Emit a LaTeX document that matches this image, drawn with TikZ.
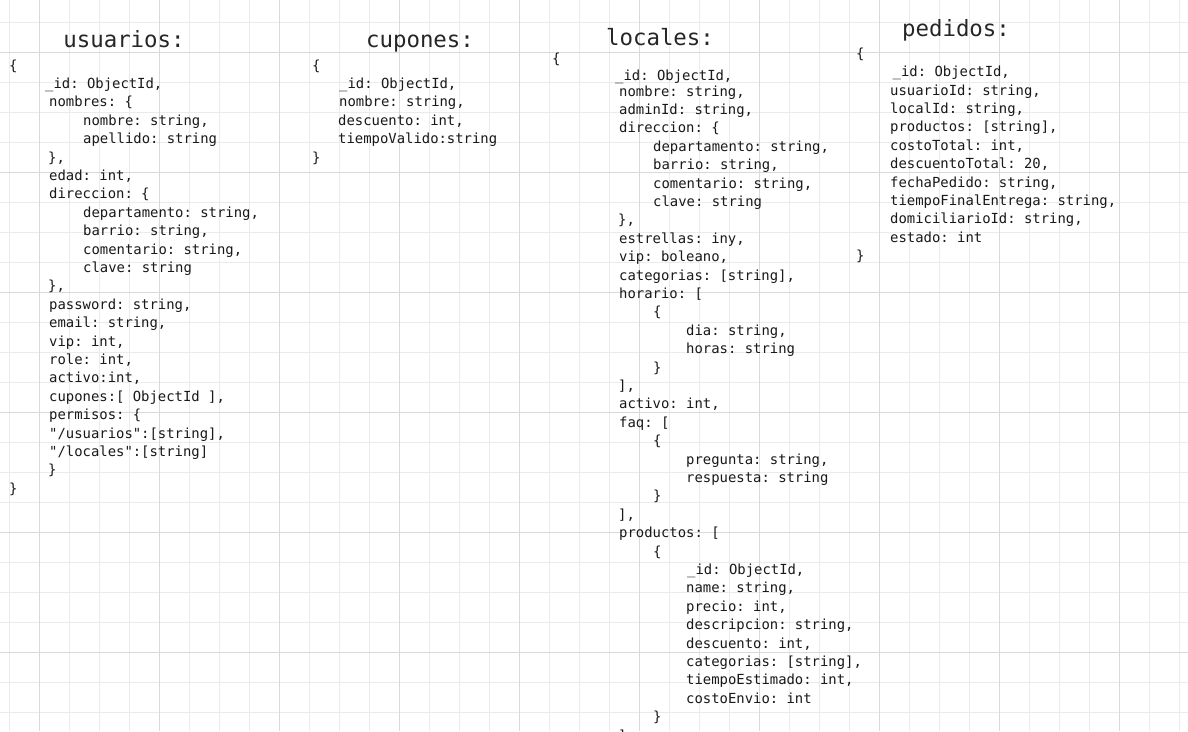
\documentclass[tikz,border=0pt]{standalone}
\usepackage{fontspec}
\setmonofont{DejaVu Sans Mono}
\tikzset{
  code/.style={anchor=base west, inner sep=0pt, font=\ttfamily\fontsize{13.9}{16}\selectfont, text=black!90},
  title/.style={anchor=base, inner sep=0pt, font=\ttfamily\fontsize{22.4}{26}\selectfont, text=black!85},
  minorgrid/.style={draw=black!8, line width=1pt},
  majorgrid/.style={draw=black!15, line width=1pt}
}
% name, x, base y, line index, text
\newcommand\cl[5]{\node[code] (#1) at ({#2},{-(#3+18.4*#4)}) {#5};}
\begin{document}
\begin{tikzpicture}[x=1pt,y=1pt]
\useasboundingbox (0,0) rectangle (1188,-731);
\fill[white] (0,0) rectangle (1188,-731);
\foreach \i in {0,...,39} \draw[minorgrid] ({9.5+30*\i},0) -- ({9.5+30*\i},-731);
\foreach \j in {0,...,23} \draw[minorgrid] (0,{-(22.5+30*\j)}) -- (1188,{-(22.5+30*\j)});
\foreach \i in {0,...,9} \draw[majorgrid] ({39.5+120*\i},0) -- ({39.5+120*\i},-731);
\foreach \j in {0,...,5} \draw[majorgrid] (0,{-(52.5+120*\j)}) -- (1188,{-(52.5+120*\j)});

% titles
\node[title] (tusu) at (124,-47.7) {usuarios:};
\node[title] (tcup) at (420,-47.7) {cupones:};
\node[title] (tloc) at (660,-45) {locales:};
\node[title] (tped) at (956,-36) {pedidos:};

% usuarios
\cl{u0}{9}{70}{0}{\{}
\cl{u1}{45}{70}{1}{\_id: ObjectId,}
\cl{u2}{49}{70}{2}{nombres: \{}
\cl{u3}{83}{70}{3}{nombre: string,}
\cl{u4}{83}{70}{4}{apellido: string}
\cl{u5}{48}{70}{5}{\},}
\cl{u6}{49}{70}{6}{edad: int,}
\cl{u7}{49}{70}{7}{direccion: \{}
\cl{u8}{83}{70}{8}{departamento: string,}
\cl{u9}{83}{70}{9}{barrio: string,}
\cl{u10}{83}{70}{10}{comentario: string,}
\cl{u11}{83}{70}{11}{clave: string}
\cl{u12}{48}{70}{12}{\},}
\cl{u13}{49}{70}{13}{password: string,}
\cl{u14}{49}{70}{14}{email: string,}
\cl{u15}{49}{70}{15}{vip: int,}
\cl{u16}{49}{70}{16}{role: int,}
\cl{u17}{49}{70}{17}{activo:int,}
\cl{u18}{49}{70}{18}{cupones:[ ObjectId ],}
\cl{u19}{49}{70}{19}{permisos: \{}
\cl{u20}{49}{70}{20}{"/usuarios":[string],}
\cl{u21}{49}{70}{21}{"/locales":[string]}
\cl{u22}{48}{70}{22}{\}}
\cl{u23}{9}{70}{23}{\}}

% cupones
\cl{c0}{312}{70}{0}{\{}
\cl{c1}{339}{70}{1}{\_id: ObjectId,}
\cl{c2}{339}{70}{2}{nombre: string,}
\cl{c3}{338}{70}{3}{descuento: int,}
\cl{c4}{338}{70}{4}{tiempoValido:string}
\cl{c5}{312}{70}{5}{\}}

% locales
\cl{lb}{552}{63.5}{0}{\{}
\cl{lid}{615}{80.5}{0}{\_id: ObjectId,}
\cl{l0}{619}{96}{0}{nombre: string,}
\cl{l1}{619}{96}{1}{adminId: string,}
\cl{l2}{619}{96}{2}{direccion: \{}
\cl{l3}{653}{96}{3}{departamento: string,}
\cl{l4}{653}{96}{4}{barrio: string,}
\cl{l5}{653}{96}{5}{comentario: string,}
\cl{l6}{653}{96}{6}{clave: string}
\cl{l7}{618}{96}{7}{\},}
\cl{l8}{619}{96}{8}{estrellas: iny,}
\cl{l9}{619}{96}{9}{vip: boleano,}
\cl{l10}{619}{96}{10}{categorias: [string],}
\cl{l11}{619}{96}{11}{horario: [}
\cl{l12}{653}{96}{12}{\{}
\cl{l13}{686}{96}{13}{dia: string,}
\cl{l14}{686}{96}{14}{horas: string}
\cl{l15}{653}{96}{15}{\}}
\cl{l16}{618}{96}{16}{],}
\cl{l17}{619}{96}{17}{activo: int,}
\cl{l18}{619}{96}{18}{faq: [}
\cl{l19}{653}{96}{19}{\{}
\cl{l20}{686}{96}{20}{pregunta: string,}
\cl{l21}{686}{96}{21}{respuesta: string}
\cl{l22}{653}{96}{22}{\}}
\cl{l23}{618}{96}{23}{],}
\cl{l24}{619}{96}{24}{productos: [}
\cl{l25}{653}{96}{25}{\{}
\cl{l26}{687}{96}{26}{\_id: ObjectId,}
\cl{l27}{686}{96}{27}{name: string,}
\cl{l28}{686}{96}{28}{precio: int,}
\cl{l29}{686}{96}{29}{descripcion: string,}
\cl{l30}{686}{96}{30}{descuento: int,}
\cl{l31}{686}{96}{31}{categorias: [string],}
\cl{l32}{686}{96}{32}{tiempoEstimado: int,}
\cl{l33}{686}{96}{33}{costoEnvio: int}
\cl{l34}{653}{96}{34}{\}}
\cl{l35}{618}{96}{35}{]}

% pedidos
\cl{pb}{856}{58}{0}{\{}
\cl{pid}{892.5}{76.5}{0}{\_id: ObjectId,}
\cl{p0}{890}{95}{0}{usuarioId: string,}
\cl{p1}{890}{95}{1}{localId: string,}
\cl{p2}{890}{95}{2}{productos: [string],}
\cl{p3}{890}{95}{3}{costoTotal: int,}
\cl{p4}{890}{95}{4}{descuentoTotal: 20,}
\cl{p5}{890}{95}{5}{fechaPedido: string,}
\cl{p6}{890}{95}{6}{tiempoFinalEntrega: string,}
\cl{p7}{890}{95}{7}{domiciliarioId: string,}
\cl{p8}{890}{95}{8}{estado: int}
\cl{p9}{856}{95}{9}{\}}
\end{tikzpicture}
\end{document}
